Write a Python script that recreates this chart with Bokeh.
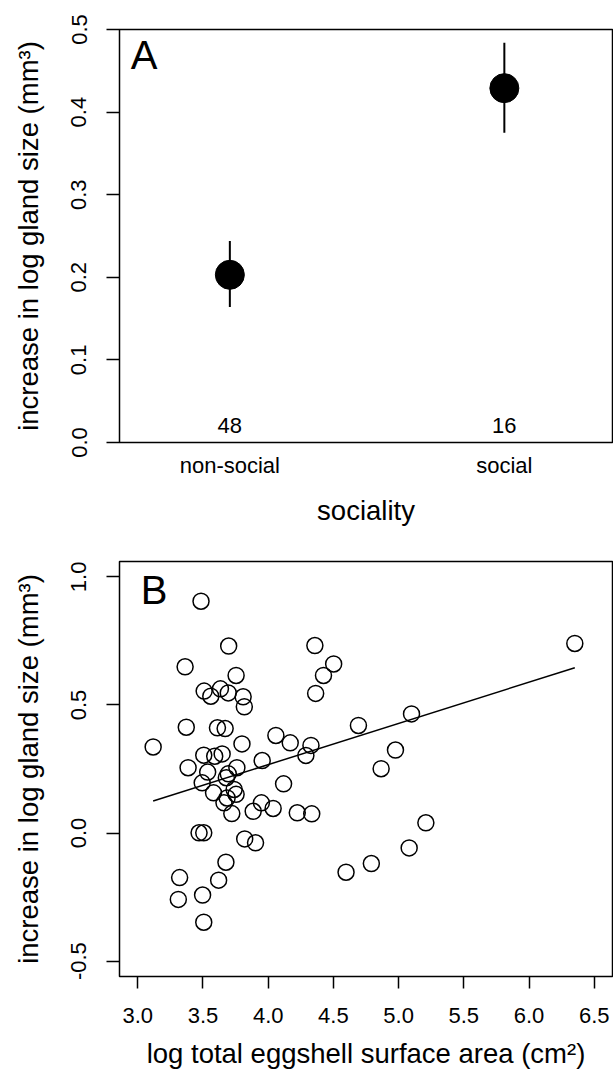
from bokeh.plotting import figure
from bokeh.layouts import column
from bokeh.models import Range1d, FixedTicker, PrintfTickFormatter
from bokeh.core.properties import value
from bokeh.embed import file_html
from bokeh.resources import INLINE

FONT = "Liberation Sans"

# ---------------- data: panel A ----------------
groups = ["non-social", "social"]
group_pos = [1, 2]
group_mean = [0.203, 0.429]
group_lo = [0.164, 0.375]
group_hi = [0.244, 0.484]
group_n = [48, 16]

# ---------------- data: panel B ----------------
eggshell_area = [
    3.485, 3.697, 4.358, 3.363, 4.502, 4.424, 3.754, 6.351, 3.509, 3.560,
    3.634, 3.694, 3.808, 3.817, 4.364, 5.099,
    3.372, 3.611, 3.670, 4.692, 3.118, 4.059, 4.169, 4.328, 4.289, 3.799,
    4.976, 3.506, 3.590, 3.647, 3.954, 4.866, 3.386, 3.760, 3.536, 3.694,
    3.679, 3.494, 4.118, 3.739, 3.754, 3.581, 3.685, 3.661, 3.948, 4.038,
    3.885, 3.721, 4.223, 4.334, 3.470, 3.506, 5.209, 3.820, 3.903, 5.081,
    3.676, 4.791, 4.597, 3.321, 3.620,
    3.311, 3.497, 3.506,
]
gland_increase = [
    0.905, 0.730, 0.732, 0.649, 0.660, 0.615, 0.615, 0.740, 0.554, 0.534,
    0.563, 0.547, 0.532, 0.493, 0.545, 0.465,
    0.413, 0.411, 0.408, 0.420, 0.336, 0.381, 0.352, 0.342, 0.303, 0.348,
    0.324, 0.304, 0.300, 0.309, 0.283, 0.251, 0.255, 0.255, 0.238, 0.231,
    0.216, 0.196, 0.192, 0.170, 0.151, 0.157, 0.137, 0.118, 0.118, 0.096,
    0.085, 0.076, 0.079, 0.075, 0.001, 0.001, 0.040, -0.023, -0.038, -0.058,
    -0.114, -0.119, -0.153, -0.174, -0.184,
    -0.259, -0.242, -0.348,
]
fit_intercept = -0.377
fit_slope = 0.161

x_ticks_b = [3.0, 3.5, 4.0, 4.5, 5.0, 5.5, 6.0, 6.5]
y_ticks_b = [-0.5, 0.0, 0.5, 1.0]
y_ticks_a = [0.0, 0.1, 0.2, 0.3, 0.4, 0.5]

TICK_FS = "22px"
TITLE_FS = "27.5px"
Y_TITLE = "increase in log gland size (mm³)"
X_TITLE_A = "sociality"
X_TITLE_B = "log total eggshell surface area (cm²)"


def style(p):
    p.grid.visible = False
    p.outline_line_color = "black"
    p.outline_line_width = 1.5
    p.background_fill_color = "white"
    p.border_fill_color = "white"
    for ax in p.axis:
        ax.axis_line_color = None
        ax.major_tick_line_color = "black"
        ax.major_tick_line_width = 1.5
        ax.minor_tick_line_color = None
        ax.major_tick_in = 0
        ax.major_label_text_font = FONT
        ax.major_label_text_font_size = TICK_FS
        ax.major_label_text_color = "black"
        ax.axis_label_text_font = FONT
        ax.axis_label_text_font_size = TITLE_FS
        ax.axis_label_text_font_style = "normal"
        ax.axis_label_text_color = "black"
    p.yaxis.major_label_orientation = "vertical"
    p.yaxis.major_tick_out = 13
    p.yaxis.major_label_standoff = 20
    p.yaxis.axis_label_standoff = 25
    p.yaxis.formatter = PrintfTickFormatter(format="%.1f")


def panel_letter(p, x, y, letter):
    p.text(x=[x], y=[y], text=[letter], text_font=value(FONT),
           text_font_size="40px", text_baseline="middle",
           text_align="left", text_color="black")


# ---------------- panel A ----------------
p1 = figure(width=613, height=530, x_range=Range1d(0.598, 2.394),
            y_range=Range1d(0.0, 0.5), output_backend="svg",
            toolbar_location=None, min_border_left=119, min_border_right=1,
            min_border_top=29, min_border_bottom=88)
style(p1)
p1.xaxis.ticker = FixedTicker(ticks=group_pos)
p1.xaxis.major_label_overrides = {g: lab for g, lab in zip(group_pos, groups)}
p1.xaxis.major_tick_out = 0
p1.xaxis.major_tick_line_color = None
p1.xaxis.major_label_standoff = 10
p1.xaxis.axis_label = X_TITLE_A
p1.xaxis.axis_label_standoff = 14
p1.yaxis.ticker = FixedTicker(ticks=y_ticks_a)
p1.yaxis.axis_label = Y_TITLE

p1.segment(x0=group_pos, y0=group_lo, x1=group_pos, y1=group_hi,
           line_color="black", line_width=2)
p1.scatter(x=group_pos, y=group_mean, size=29, fill_color="black",
           line_color="black")
p1.text(x=group_pos, y=[0.02] * len(group_pos), text=[str(n) for n in group_n],
        text_font=value(FONT), text_font_size=TICK_FS,
        text_align="center", text_baseline="middle", text_color="black")
panel_letter(p1, 0.639, 0.4692, "A")

# ---------------- panel B ----------------
p2 = figure(width=613, height=545, x_range=Range1d(2.86, 6.64),
            y_range=Range1d(-0.56, 1.06), output_backend="svg",
            toolbar_location=None, min_border_left=119, min_border_right=1,
            min_border_top=31, min_border_bottom=99)
style(p2)
p2.xaxis.ticker = FixedTicker(ticks=x_ticks_b)
p2.xaxis.formatter = PrintfTickFormatter(format="%.1f")
p2.xaxis.major_tick_out = 12
p2.xaxis.major_label_standoff = 19
p2.xaxis.axis_label = X_TITLE_B
p2.xaxis.axis_label_standoff = 12
p2.yaxis.ticker = FixedTicker(ticks=y_ticks_b)
p2.yaxis.axis_label = Y_TITLE

p2.scatter(x=eggshell_area, y=gland_increase, size=16, fill_color=None,
           line_color="black", line_width=1.5)
fx = [min(eggshell_area), max(eggshell_area)]
fy = [fit_intercept + fit_slope * v for v in fx]
p2.line(x=fx, y=fy, line_color="black", line_width=1.5)
panel_letter(p2, 3.023, 0.950, "B")

layout = column(p1, p2, spacing=0)
open("out.html", "w").write(file_html(layout, INLINE))
